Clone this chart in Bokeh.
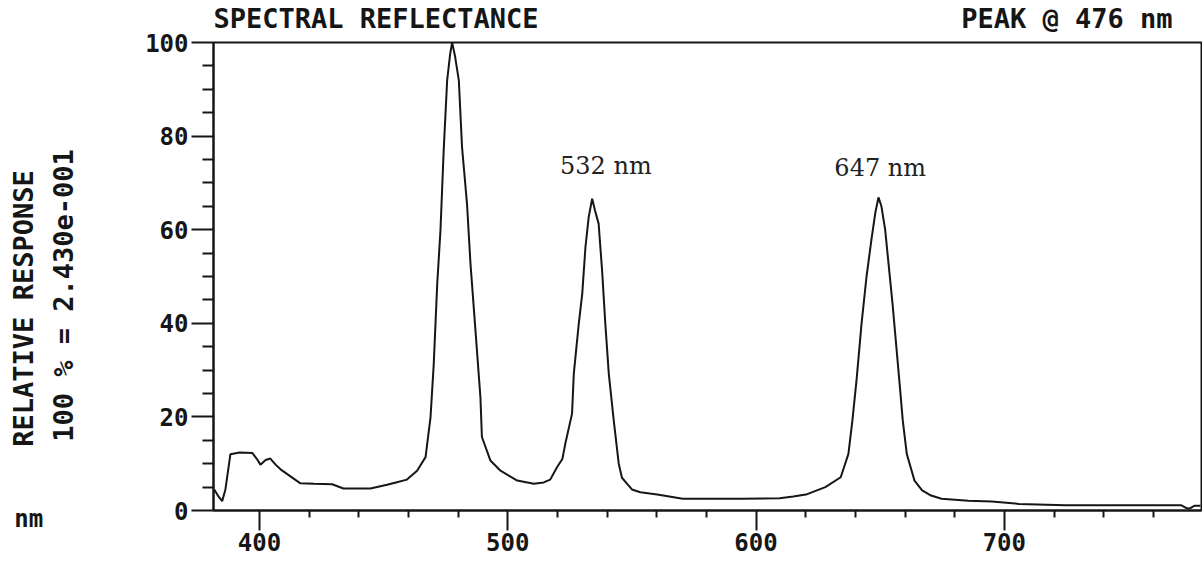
import math
from bokeh.plotting import figure
from bokeh.models import Label, FixedTicker, Range1d
from bokeh.embed import file_html
from bokeh.resources import INLINE

# ---- data ----
wavelength_nm = [
    381.8, 383.5, 385.0, 386.3, 387.5, 388.3, 392.0, 397.1, 399.0, 400.4,
    402.5, 404.4, 406.5, 408.5, 412.5, 416.5, 422.0, 429.3, 433.8, 444.7,
    451.4, 455.0, 459.4, 463.5, 466.9, 468.9, 470.2, 471.6, 472.9, 474.2,
    475.6, 476.8, 477.6, 478.8, 480.3, 481.6, 483.6, 485.0, 487.0, 489.0,
    489.6, 493.0, 497.1, 503.8, 510.5, 514.5, 517.1, 519.9, 522.0, 523.2,
    525.9, 526.6, 528.6, 530.0, 531.3, 532.6, 534.0, 535.2, 536.6, 538.0,
    539.3, 540.7, 542.7, 544.7, 546.0, 548.1, 550.0, 553.4, 560.2, 570.5,
    593.7, 609.5, 615.0, 620.1, 627.9, 634.1, 637.2, 638.8, 640.5, 642.5,
    644.5, 646.5, 648.0, 649.3, 650.5, 652.0, 653.5, 655.0, 656.5, 658.0,
    659.1, 660.7, 663.8, 666.9, 670.5, 674.7, 685.5, 695.0, 705.9, 724.6,
    771.3, 773.0, 774.5, 776.5, 779.0,
]
relative_response = [
    4.5, 3.0, 2.0, 4.5, 9.0, 12.0, 12.4, 12.3, 11.0, 9.8,
    10.8, 11.1, 9.8, 8.8, 7.3, 5.8, 5.7, 5.6, 4.7, 4.7,
    5.5, 6.0, 6.6, 8.5, 11.4, 19.9, 31.3, 48.4, 59.8, 76.9,
    91.9, 97.5, 100.0, 97.0, 91.9, 77.6, 65.5, 52.7, 38.5, 24.2,
    15.7, 10.7, 8.5, 6.4, 5.7, 6.0, 6.6, 9.3, 11.0, 14.3,
    20.7, 29.2, 39.9, 46.3, 56.3, 62.7, 66.6, 64.0, 61.3, 51.3,
    39.9, 29.2, 19.2, 10.0, 7.0, 5.7, 4.5, 3.9, 3.4, 2.5,
    2.5, 2.6, 3.0, 3.4, 5.0, 7.1, 12.1, 19.2, 28.0, 40.0,
    50.0, 58.0, 63.5, 66.9, 65.0, 60.0, 52.0, 44.0, 35.0, 26.0,
    19.2, 12.1, 6.4, 4.3, 3.2, 2.5, 2.1, 1.9, 1.4, 1.1,
    1.1, 0.6, 0.4, 1.0, 1.0,
]

x_major_ticks = [400, 500, 600, 700]
x_minor_ticks = [420, 440, 460, 480, 520, 540, 560, 580, 620, 640, 660, 680,
                 720, 740, 760]
y_major_ticks = [0, 20, 40, 60, 80, 100]
y_minor_ticks = [5, 10, 15, 25, 30, 35, 45, 50, 55, 65, 70, 75, 85, 90, 95]

title_text = "SPECTRAL REFLECTANCE"
peak_text = "PEAK @ 476 nm"
ylabel_lines = ["RELATIVE RESPONSE", "100 % = 2.430e-001"]
x_unit_text = "nm"
peak_label_text = ["532 nm", "647 nm"]
peak_label_x = [539.5, 650.0]
peak_label_y = [73.7, 73.1]

INK = "#161616"
MONO = "DejaVu Sans Mono"
NBSP = "\u00a0"

p = figure(width=1202, height=560, output_backend="svg", toolbar_location=None,
           x_range=Range1d(381.5, 779.4), y_range=Range1d(0, 100),
           min_border_left=213, min_border_right=1, min_border_top=42,
           min_border_bottom=50)

p.background_fill_color = "white"
p.border_fill_color = "white"
p.xgrid.visible = False
p.ygrid.visible = False
p.outline_line_color = INK
p.outline_line_width = 2

# axes
p.xaxis.ticker = FixedTicker(ticks=x_major_ticks, minor_ticks=x_minor_ticks)
p.yaxis.ticker = FixedTicker(ticks=y_major_ticks, minor_ticks=y_minor_ticks)
for ax in (p.xaxis, p.yaxis):
    ax.axis_line_color = INK
    ax.axis_line_width = 2
    ax.major_tick_line_color = INK
    ax.major_tick_line_width = 2
    ax.minor_tick_line_color = INK
    ax.minor_tick_line_width = 2
    ax.major_tick_in = 0
    ax.minor_tick_in = 0
    ax.major_label_text_font = MONO
    ax.major_label_text_font_style = "bold"
    ax.major_label_text_color = INK
    ax.major_label_text_font_size = "24px"
p.xaxis.major_tick_out = 20
p.xaxis.minor_tick_out = 7
p.xaxis.major_label_standoff = 2
p.yaxis.major_tick_out = 22
p.yaxis.minor_tick_out = 11
p.yaxis.major_label_standoff = 3

# spectrum
p.line(wavelength_nm, relative_response, line_color=INK, line_width=2)

# peak annotations inside the frame
for t, x, y in zip(peak_label_text, peak_label_x, peak_label_y):
    p.add_layout(Label(x=x, y=y, text=t, text_font="DejaVu Serif",
                       text_font_size="24px", text_color="#222222",
                       text_align="center", text_baseline="middle"))


def side_label(place, text, x, y, size, align="center", angle=0.0):
    """Text in its own side panel; x, y are pixel offsets from that panel."""
    p.add_layout(Label(x=x, y=y, x_units="screen", y_units="screen",
                       text=text, angle=angle, text_font=MONO,
                       text_font_size=size, text_font_style="bold",
                       text_color=INK, text_align=align,
                       text_baseline="middle"), place)


# header line above the frame: title on the left, peak readout on the right
header = title_text + NBSP * 26 + peak_text
side_label("above", header, 0, 24, "27px", align="left")

# left of the y axis: unit of the x axis (bottom) and the two caption lines
side_label("left", x_unit_text, -84.7, -8, "24px")
side_label("left", ylabel_lines[1], -19.3, 215, "27px", angle=math.pi / 2)
side_label("left", ylabel_lines[0], -27.9, 202, "27px", angle=math.pi / 2)

open("out.html", "w").write(file_html(p, INLINE))
